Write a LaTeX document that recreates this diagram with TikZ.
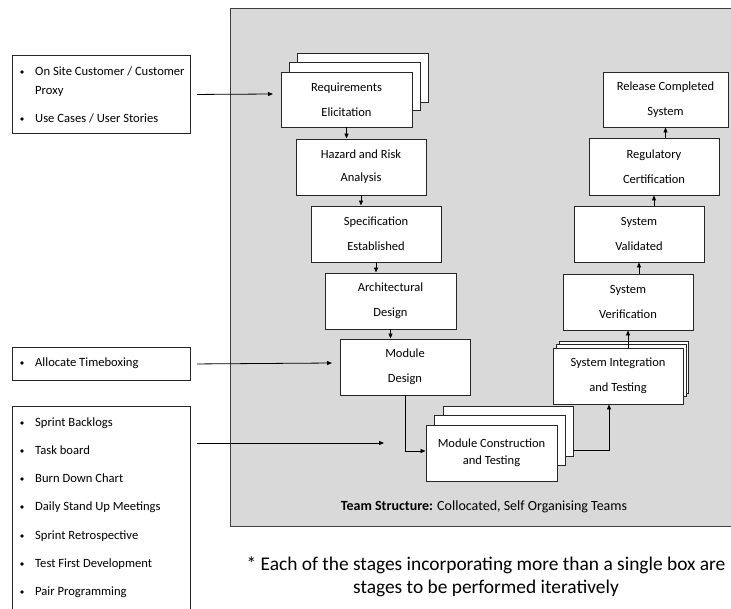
\documentclass[tikz,border=0pt]{standalone}
\usepackage{fontspec}
\setmainfont{Carlito}
\usetikzlibrary{arrows.meta,calc}
\begin{document}
\begin{tikzpicture}[x=1pt,y=-1pt,
 stage/.style={draw=black!85, line width=0.9pt, fill=white, inner sep=0pt, align=center, font=\fontsize{12.5}{25}\selectfont},
 ghost/.style={draw=black!85, line width=0.9pt, fill=white, inner sep=0pt},
 listbox/.style={draw=black!85, line width=0.9pt, fill=white, inner sep=0pt, anchor=north west},
 item/.style={anchor=west, inner sep=0pt, text height=8pt, text depth=2pt, font=\fontsize{12.6}{14}\selectfont},
 flow/.style={line width=0.8pt, -{Triangle[length=5pt,width=4pt]}},
]
\useasboundingbox (0,0) rectangle (731,608);
\definecolor{panelgray}{RGB}{217,217,217}
% panel
\draw[draw=black!75, line width=1pt, fill=panelgray] (230,8) rectangle (745,526);

% left side list boxes
\node[listbox, minimum width=178pt, minimum height=78pt] (b1) at (12,55) {};
\node[listbox, minimum width=178pt, minimum height=33pt] (b2) at (12,347) {};
\node[listbox, minimum width=178pt, minimum height=215pt] (b3) at (12,406) {};

\fill (22,72) circle (1.8pt);
\node[item] (t11) at (35,72) {On Site Customer / Customer};
\node[item] (t1p) at (35,91) {Proxy};
\fill (22,119) circle (1.8pt);
\node[item] (t12) at (35,119) {Use Cases / User Stories};
\fill (22,363) circle (1.8pt);
\node[item] (t2) at (35,363) {Allocate Timeboxing};
\foreach \yy/\tx [count=\i] in {423/Sprint Backlogs, 451/Task board, 479/Burn Down Chart, 507/Daily Stand Up Meetings, 536/Sprint Retrospective, 564/Test First Development, 592/Pair Programming}{
  \fill (22,\yy) circle (1.8pt);
  \node[item] (t3\i) at (35,\yy) {\tx};
}

% left V stages
\node[ghost, minimum width=131pt, minimum height=49pt] (req3) at (362.5,77.5) {};
\node[ghost, minimum width=131pt, minimum height=48pt] (req2) at (354.5,86) {};
\node[stage, minimum width=131pt, minimum height=55pt] (req) at (346.5,99.5) {Requirements\\Elicitation};
\node[stage, minimum width=130pt, minimum height=56pt, font=\fontsize{12.5}{23}\selectfont] (haz) at (361,167) {Hazard and Risk\\Analysis};
\node[stage, minimum width=130pt, minimum height=56pt] (spec) at (376,234) {Specification\\Established};
\node[stage, minimum width=131pt, minimum height=56pt] (arch) at (390.5,301) {Architectural\\Design};
\node[stage, minimum width=130pt, minimum height=56pt] (md) at (405,367) {Module\\Design};

% bottom
\node[ghost, minimum width=130pt, minimum height=50pt] (mc3) at (508,431) {};
\node[ghost, minimum width=131pt, minimum height=50pt] (mc2) at (499.5,440) {};
\node[stage, minimum width=131pt, minimum height=56pt, font=\fontsize{12.5}{17}\selectfont] (mc) at (491.5,453) {Module Construction\\and Testing};

% right side
\node[ghost, minimum width=129pt, minimum height=52pt] (si3) at (623.5,367) {};
\node[ghost, minimum width=130pt, minimum height=52pt] (si2) at (621,370) {};
\node[stage, minimum width=130pt, minimum height=56pt] (si) at (618,376) {System Integration\\and Testing};
\node[stage, minimum width=130pt, minimum height=56pt] (ver) at (628,302) {System\\Verification};
\node[stage, minimum width=130pt, minimum height=56pt] (val) at (639,234) {System\\Validated};
\node[stage, minimum width=130pt, minimum height=57pt] (reg) at (654,166.5) {Regulatory\\Certification};
\node[stage, minimum width=125pt, minimum height=55pt] (rel) at (665.5,99.5) {Release Completed\\System};

% connectors left column (down)
\draw[flow] (req.south) -- (req.south |- haz.north);
\draw[flow] (haz.south) -- (haz.south |- spec.north);
\draw[flow] (spec.south) -- (spec.south |- arch.north);
\draw[flow] (arch.south) -- (arch.south |- md.north);
\draw[flow] (md.south) |- ($(mc.west)+(0,-2)$);

% bottom to right
\coordinate (sibot) at ($(si.south)+(-9,0)$);
\draw[flow] ($(mc3.south east)+(0,-6)$) -| (sibot);

% right column (up)
\draw[flow] (si.north -| ver.south) -- (ver.south);
\draw[flow] (ver.north -| val.south) -- (val.south);
\draw[flow] (val.north -| reg.south) -- (reg.south);
\draw[flow] (reg.north -| rel.south) -- (rel.south);

% from list boxes
\coordinate (e1) at (273,94);
\coordinate (e2) at (332,363);
\coordinate (e3) at (384,443);
\draw[flow] ($(b1.east)+(6,0)$) -- (e1);
\draw[flow] ($(b2.east)+(6,0)$) -- (e2);
\draw[flow] ($(b3.north east)+(6,37)$) -- (e3);

% captions
\node[inner sep=0pt, font=\fontsize{14}{16}\selectfont] (team) at (484,507) {\textbf{Team Structure:} Collocated, Self Organising Teams};
\node[inner sep=0pt, align=center, font=\fontsize{19.4}{23}\selectfont] (note) at (486,577) {* Each of the stages incorporating more than a single box are\\stages to be performed iteratively};
\end{tikzpicture}
\end{document}
